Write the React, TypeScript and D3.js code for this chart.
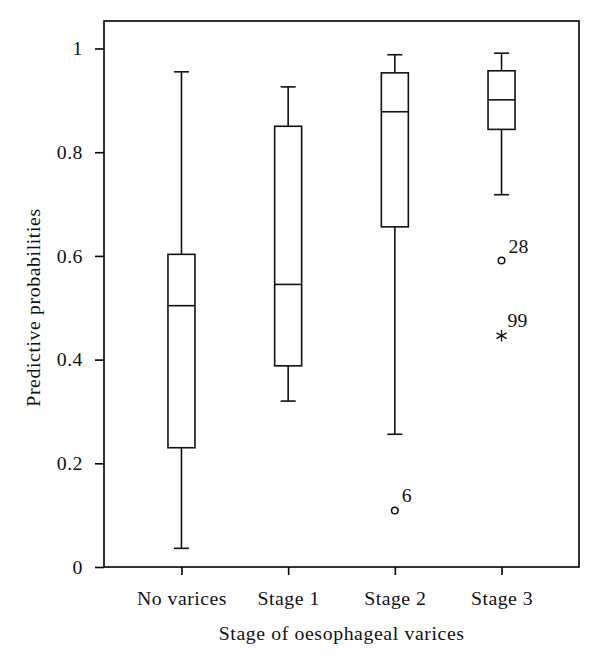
import React, { useRef, useEffect } from "react";
import * as d3 from "d3";

// box plot values
const categories = ["No varices", "Stage 1", "Stage 2", "Stage 3"];
const whiskerLow = [0.036, 0.32, 0.256, 0.718];
const q1 = [0.23, 0.388, 0.656, 0.844];
const medians = [0.504, 0.545, 0.878, 0.901];
const q3 = [0.603, 0.85, 0.953, 0.957];
const whiskerHigh = [0.955, 0.926, 0.988, 0.991];

const outlierCats = ["Stage 2", "Stage 3", "Stage 3"];
const outlierValues = [0.109, 0.591, 0.446];
const outlierLabels = ["6", "28", "99"];
const outlierKinds = ["circle", "circle", "star"];

const yTicks = [0, 0.2, 0.4, 0.6, 0.8, 1];

const W = 600;
const H = 666;
const left = 104, right = 579, top = 21, bottom = 567;
const FONT = "'Liberation Serif', 'Times New Roman', serif";
const FS = 19.8;

function BoxChart() {
  const svgRef = useRef<SVGSVGElement>(null);

  useEffect(() => {
    const svg = d3.select(svgRef.current);
    svg.selectAll("*").remove();

    const x = d3.scalePoint().domain(categories).range([left, right]).padding(0.726);
    const y = d3.scaleLinear().domain([0, 1]).range([bottom, 48.5]);

    const boxW = 27, capW = 15;

    // frame
    svg.append("rect")
      .attr("x", left).attr("y", top)
      .attr("width", right - left).attr("height", bottom - top)
      .attr("fill", "none").attr("stroke", "#000").attr("stroke-width", 1.6);

    // y axis
    const ya = svg.append("g").attr("transform", `translate(${left},0)`)
      .call(d3.axisLeft(y).tickValues(yTicks).tickSize(9).tickSizeOuter(0).tickPadding(12)
        .tickFormat((d: any) => String(d)));
    ya.select(".domain").remove();
    ya.selectAll("line").attr("stroke-width", 1.6);
    ya.selectAll("text").attr("font-family", FONT).attr("font-size", FS)
      .attr("letter-spacing", 0.5).attr("fill", "#111");

    // x axis
    const xa = svg.append("g").attr("transform", `translate(0,${bottom})`)
      .call(d3.axisBottom(x).tickSize(8).tickSizeOuter(0).tickPadding(16));
    xa.select(".domain").remove();
    xa.selectAll("line").attr("stroke-width", 1.6);
    xa.selectAll("text").attr("font-family", FONT).attr("font-size", FS)
      .attr("letter-spacing", 0.5).attr("fill", "#111");

    const g = svg.append("g").attr("stroke", "#111").attr("stroke-width", 1.6).attr("fill", "none");

    categories.forEach((c, i) => {
      const cx = x(c)!;
      // whiskers
      g.append("line").attr("x1", cx).attr("x2", cx).attr("y1", y(whiskerHigh[i])).attr("y2", y(q3[i]));
      g.append("line").attr("x1", cx).attr("x2", cx).attr("y1", y(q1[i])).attr("y2", y(whiskerLow[i]));
      g.append("line").attr("x1", cx - capW / 2).attr("x2", cx + capW / 2)
        .attr("y1", y(whiskerHigh[i])).attr("y2", y(whiskerHigh[i]));
      g.append("line").attr("x1", cx - capW / 2).attr("x2", cx + capW / 2)
        .attr("y1", y(whiskerLow[i])).attr("y2", y(whiskerLow[i]));
      // box
      g.append("rect").attr("x", cx - boxW / 2).attr("y", y(q3[i]))
        .attr("width", boxW).attr("height", y(q1[i]) - y(q3[i])).attr("fill", "#fff");
      g.append("line").attr("x1", cx - boxW / 2).attr("x2", cx + boxW / 2)
        .attr("y1", y(medians[i])).attr("y2", y(medians[i]));
    });

    // outliers
    outlierValues.forEach((v, i) => {
      const cx = x(outlierCats[i])!;
      const cy = y(v);
      const star = outlierKinds[i] === "star";
      const sym = star
        ? d3.symbol().type(d3.symbolAsterisk).size(95)
        : d3.symbol().type(d3.symbolCircle).size(34);
      g.append("path").attr("d", sym() as string)
        .attr("transform", `translate(${cx},${cy})`)
        .attr("stroke-width", star ? 1.3 : 1.5);
      svg.append("text")
        .attr("x", cx + (star ? 6 : 7)).attr("y", cy - (star ? 9 : 8))
        .attr("font-family", FONT).attr("font-size", FS).attr("fill", "#111")
        .text(outlierLabels[i]);
    });

    // titles
    svg.append("text")
      .attr("transform", `translate(40,307.5) rotate(-90)`)
      .attr("text-anchor", "middle")
      .attr("font-family", FONT).attr("font-size", FS).attr("letter-spacing", 0.6)
      .attr("fill", "#111")
      .text("Predictive probabilities");

    svg.append("text")
      .attr("x", 341.7).attr("y", 640)
      .attr("text-anchor", "middle")
      .attr("font-family", FONT).attr("font-size", FS).attr("letter-spacing", 0.6)
      .attr("fill", "#111")
      .text("Stage of oesophageal varices");
  }, []);

  return (
    <svg ref={svgRef} width={W} height={H}
      style={{ position: "absolute", left: 0, top: 0, background: "#fff" }} />
  );
}

export default function App() {
  return <BoxChart />;
}
